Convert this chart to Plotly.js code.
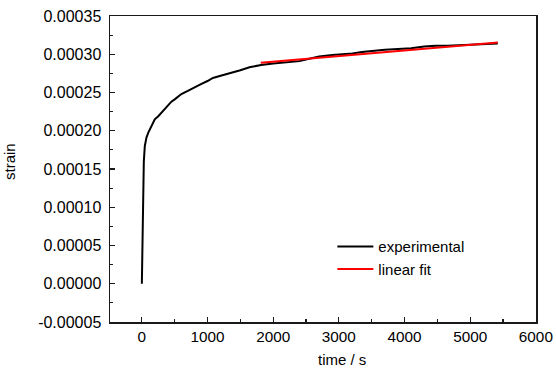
<!DOCTYPE html>
<html>
<head>
<meta charset="utf-8">
<script src="https://cdn.plot.ly/plotly-3.0.1.min.js"></script>
<style>
  html, body { margin: 0; padding: 0; background: #fff; }
  #chart { width: 556px; height: 371px; }
</style>
</head>
<body>
<div id="chart"></div>
<script>
// experimental creep data (time in s, strain)
const expTime = [0, 10, 20, 30, 45, 70, 100, 121, 160, 197, 250, 299, 350, 399, 450, 500,
  602, 700, 804, 900, 1000, 1082, 1200, 1300, 1386, 1500, 1639, 1816, 2000, 2196, 2400,
  2549, 2700, 2903, 3050, 3206, 3350, 3510, 3700, 3900, 4100, 4300, 4472, 4650, 4850,
  5050, 5250, 5420];
const expStrain = [0, 0.00008, 0.000136, 0.000160, 0.000180, 0.000191, 0.000198, 0.000202,
  0.000209, 0.000215, 0.000219, 0.000224, 0.000229, 0.000234, 0.000238, 0.000241,
  0.000248, 0.000252, 0.000257, 0.000261, 0.000265, 0.000269, 0.000272, 0.000274,
  0.000276, 0.000279, 0.000283, 0.000286, 0.000288, 0.000289, 0.000291, 0.000294,
  0.000297, 0.000299, 0.000300, 0.000301, 0.000303, 0.0003045, 0.000306, 0.000307,
  0.000308, 0.000310, 0.000311, 0.000311, 0.000312, 0.000313, 0.000314, 0.000314];
// linear fit over the later part
const fitTime = [1810, 5420];
const fitStrain = [0.000289, 0.0003152];

const xTicks = [0, 1000, 2000, 3000, 4000, 5000, 6000];
const yTicks = [-0.00005, 0, 0.00005, 0.0001, 0.00015, 0.0002, 0.00025, 0.0003, 0.00035];
const yTickText = ['-0.00005', '0.00000', '0.00005', '0.00010', '0.00015', '0.00020',
  '0.00025', '0.00030', '0.00035'];

const FONT = 'Liberation Sans, Arial, sans-serif';

const traces = [
  { x: expTime, y: expStrain, type: 'scatter', mode: 'lines', name: 'experimental',
    line: { color: '#000000', width: 2 } },
  { x: fitTime, y: fitStrain, type: 'scatter', mode: 'lines', name: 'linear fit',
    line: { color: '#ff0000', width: 2 } }
];

const axisCommon = {
  showgrid: false, zeroline: false, showline: true, linecolor: '#1a1a1a', linewidth: 1.5,
  mirror: true, ticks: 'inside', ticklen: 5, tickwidth: 1.2, tickcolor: '#1a1a1a'
};

const layout = {
  width: 556, height: 371,
  margin: { l: 110, r: 20, t: 16, b: 49 },
  paper_bgcolor: '#fff', plot_bgcolor: '#fff',
  font: { family: FONT, size: 15, color: '#000' },
  xaxis: Object.assign({}, axisCommon, {
    range: [-485, 6002], tickmode: 'array', tickvals: xTicks,
    tickfont: { family: FONT, size: 15.3, color: '#000' },
    minor: { dtick: 500, tick0: 0, ticks: 'inside', ticklen: 3, tickcolor: '#1a1a1a', tickwidth: 1.2 }
  }),
  yaxis: Object.assign({}, axisCommon, {
    range: [-0.00005, 0.00035], tickmode: 'array', tickvals: yTicks, ticktext: yTickText,
    tickfont: { family: FONT, size: 16, color: '#000' }, ticklabelstandoff: 4,
    minor: { dtick: 0.000025, tick0: 0, ticks: 'inside', ticklen: 3, tickcolor: '#1a1a1a', tickwidth: 1.2 }
  }),
  showlegend: true,
  legend: { x: 0.522, y: 0.30, xanchor: 'left', yanchor: 'top', bgcolor: 'rgba(0,0,0,0)',
    font: { family: FONT, size: 15, color: '#000' }, tracegroupgap: 0, itemwidth: 36 },
  annotations: [
    { text: 'time / s', xref: 'paper', yref: 'paper', x: 0.545, y: -0.124,
      xanchor: 'center', yanchor: 'middle', showarrow: false,
      font: { family: FONT, size: 15, color: '#000' } },
    { text: 'strain', xref: 'paper', yref: 'paper', x: -0.236, y: 0.5245,
      xanchor: 'center', yanchor: 'middle', textangle: -90, showarrow: false,
      font: { family: FONT, size: 15, color: '#000' } }
  ]
};

Plotly.newPlot('chart', traces, layout, { displayModeBar: false, staticPlot: true });
</script>
</body>
</html>
